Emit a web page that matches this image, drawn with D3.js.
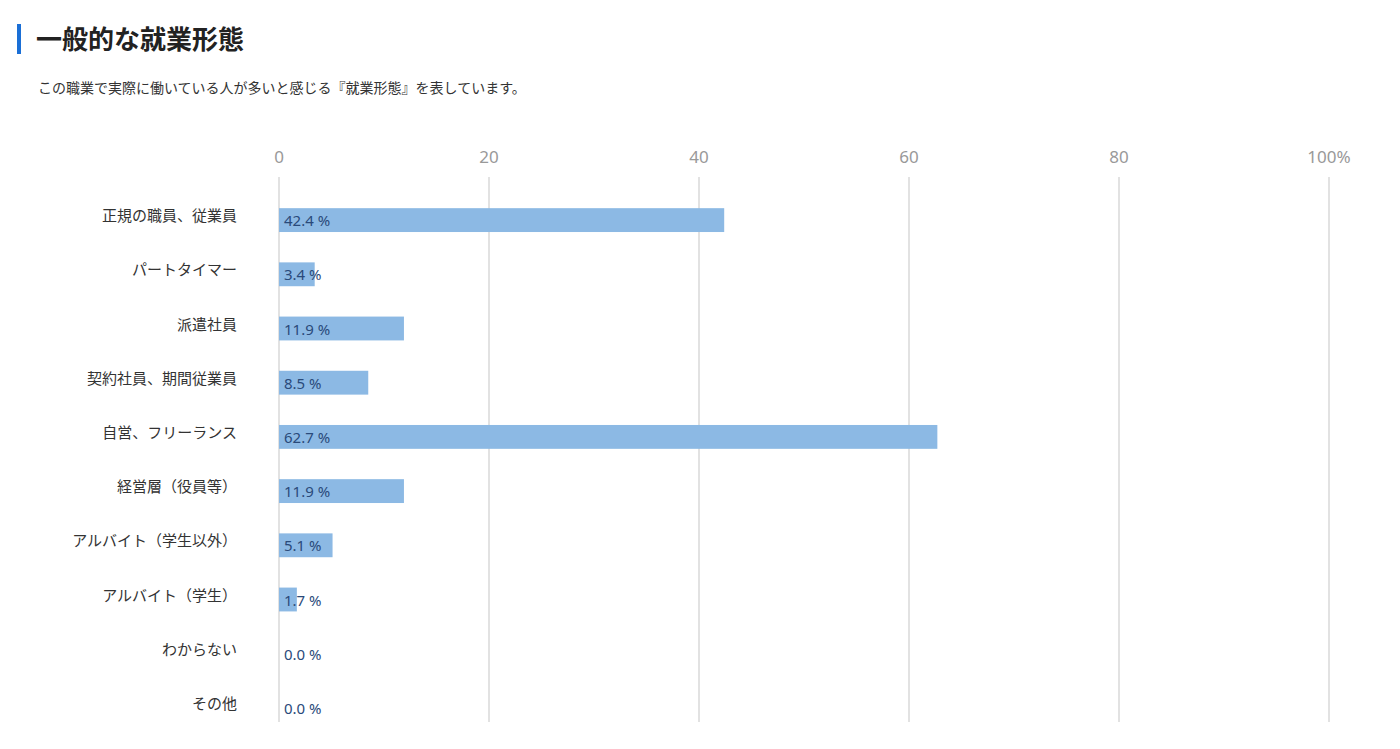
<!DOCTYPE html><html><head><meta charset="utf-8"><script src="https://cdn.jsdelivr.net/npm/d3@7"></script>
<style>body{margin:0;background:#fff;font-family:"Noto Sans CJK JP","Noto Sans",sans-serif;}</style></head><body>
<svg id="c" width="1400" height="749"></svg>
<script>
const categories=["正規の職員、従業員","パートタイマー","派遣社員","契約社員、期間従業員","自営、フリーランス","経営層（役員等）","アルバイト（学生以外）","アルバイト（学生）","わからない","その他"];
const values=[42.4,3.4,11.9,8.5,62.7,11.9,5.1,1.7,0.0,0.0];
const tickValues=[0,20,40,60,80,100];
const tickLabels=["0","20","40","60","80","100%"];
const svg=d3.select("#c");
svg.append("rect").attr("x",17).attr("y",24).attr("width",4).attr("height",30).attr("fill","#1a6fd6");
svg.append("text").attr("x",36).attr("y",49).attr("font-size",26).attr("font-weight","bold").attr("fill","#222").text("一般的な就業形態");
svg.append("text").attr("x",38).attr("y",93).attr("font-size",14).attr("fill","#333").text("この職業で実際に働いている人が多いと感じる『就業形態』を表しています。");
const x=d3.scaleLinear().domain([0,100]).range([279,1329]);
const y=d3.scaleBand().domain(categories).range([193,735]).paddingInner(0.56).paddingOuter(0.28);
const g=svg.append("g");
g.selectAll(".grid").data(tickValues).join("line").attr("x1",d=>x(d)).attr("x2",d=>x(d)).attr("y1",177).attr("y2",722).attr("stroke","#e2e2e2").attr("stroke-width",2);
g.selectAll(".tk").data(tickValues).join("text").attr("x",d=>x(d)).attr("y",163).attr("text-anchor","middle").attr("font-size",17).attr("fill","#999").attr("font-family","'Noto Sans',sans-serif").text((d,i)=>tickLabels[i]);
g.selectAll(".bar").data(values).join("rect").attr("x",x(0)).attr("y",(d,i)=>y(categories[i])).attr("width",d=>x(d)-x(0)).attr("height",y.bandwidth()).attr("fill","#8cb9e4");
g.selectAll(".vl").data(values).join("text").attr("x",284).attr("y",(d,i)=>y(categories[i])+y.bandwidth()/2+6).attr("font-size",15).attr("fill","#2a4a7a").attr("font-family","'Noto Sans',sans-serif").text(d=>d.toFixed(1)+" %");
g.selectAll(".cl").data(categories).join("text").attr("x",237).attr("y",d=>y(d)+y.bandwidth()/2+1).attr("text-anchor","end").attr("font-size",15).attr("fill","#333").text(d=>d);
</script></body></html>
